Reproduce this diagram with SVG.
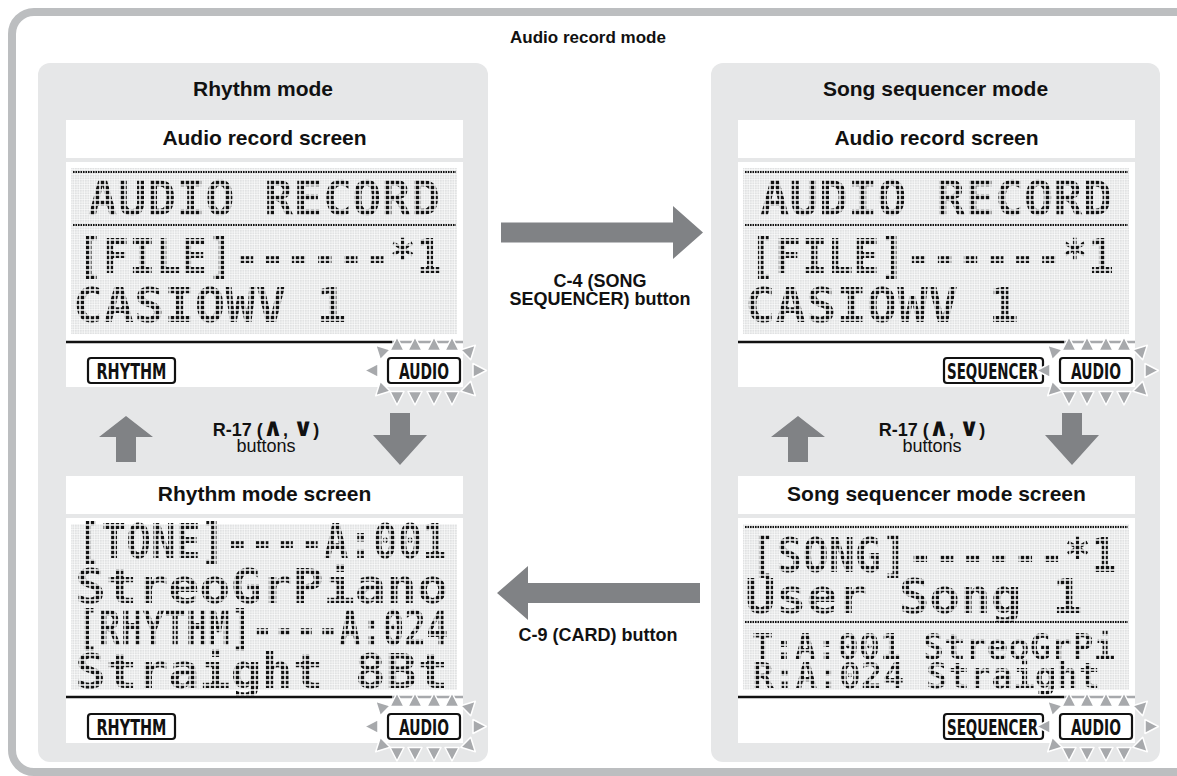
<svg xmlns="http://www.w3.org/2000/svg" width="1177" height="776" viewBox="0 0 1177 776">
<defs>
<style>
.hd{font-family:"Liberation Sans",Arial,sans-serif;font-weight:bold;font-size:21px;fill:#111;text-anchor:middle}
.top{font-size:17px}
.lb{font-family:"Liberation Sans",Arial,sans-serif;font-weight:bold;font-size:18px;fill:#111;text-anchor:middle}
.lr{font-family:"Liberation Sans",Arial,sans-serif;font-weight:normal;font-size:18px;fill:#111;text-anchor:middle}
.sym{font-family:"DejaVu Sans",sans-serif;font-weight:bold;font-size:25px}
.panel{fill:#e6e7e8}
.wbox{fill:#fff}
.grid{fill:url(#grid)}
.lcd{font-family:"DejaVu Sans Mono","Liberation Mono",monospace;font-weight:bold;font-size:48px;fill:#111}
.lcds{font-size:36px}
.dot{stroke:#111;stroke-width:2;stroke-dasharray:1.6 0.9;fill:none}
.bar{stroke:#111;stroke-width:2.5}
.barg{stroke:#a7a9ac;stroke-width:2.5}
.badge{fill:#fff;stroke:#111;stroke-width:2.2}
.bt{font-family:"DejaVu Sans",sans-serif;font-weight:bold;font-size:21px;fill:#111;text-anchor:middle}
.arr{fill:#808285}
.tri{fill:#a7a9ac;stroke:#fff;stroke-width:1.5;stroke-linejoin:round}
</style>
<pattern id="grid" width="2.5" height="2.5" patternUnits="userSpaceOnUse"><rect width="2" height="2" fill="#e1e2e3"/></pattern>
<pattern id="dp" width="5" height="5" patternUnits="userSpaceOnUse"><rect x="0.8" y="0.8" width="3.4" height="3.4" fill="#fff"/></pattern>
<mask id="dm" maskUnits="userSpaceOnUse" x="0" y="0" width="1177" height="776"><rect width="1177" height="776" fill="url(#dp)"/></mask>
<polygon id="tri" class="tri" points="0,-7.5 7,6 -7,6"/>
<g id="glow">
<use href="#tri" transform="translate(-27,-26)"/>
<use href="#tri" transform="translate(-9,-26)"/>
<use href="#tri" transform="translate(10,-26)"/>
<use href="#tri" transform="translate(28,-26)"/>
<use href="#tri" transform="translate(-27,27) rotate(180)"/>
<use href="#tri" transform="translate(-9,27) rotate(180)"/>
<use href="#tri" transform="translate(10,27) rotate(180)"/>
<use href="#tri" transform="translate(28,27) rotate(180)"/>
<use href="#tri" transform="translate(-52,0) rotate(-90)"/>
<use href="#tri" transform="translate(55,0) rotate(90)"/>
<use href="#tri" transform="translate(-43,-20) rotate(-45)"/>
<use href="#tri" transform="translate(46,-20) rotate(45)"/>
<use href="#tri" transform="translate(-43,20) rotate(-135)"/>
<use href="#tri" transform="translate(46,20) rotate(135)"/>
</g>
</defs>

<rect width="1177" height="776" fill="#fff"/>

<g id="frame">
<rect x="12" y="12" width="1200" height="760" rx="22" fill="#fff" stroke="#bcbec0" stroke-width="8"/>
<text class="hd top" x="588" y="43">Audio record mode</text>
</g>

<g id="rhythm-panel">
<rect class="panel" x="38" y="63" width="450" height="699" rx="12"/>
<text class="hd" x="263" y="96">Rhythm mode</text>
</g>

<g id="song-panel">
<rect class="panel" x="711" y="63" width="449" height="699" rx="12"/>
<text class="hd" x="935.5" y="96">Song sequencer mode</text>
</g>

<g id="rhythm-audio-screen">
<rect class="wbox" x="66" y="120" width="397" height="38"/>
<text class="hd" x="264.5" y="145">Audio record screen</text>
<rect class="wbox" x="66" y="162" width="397" height="225"/>
<rect class="grid" x="71" y="168" width="386" height="166"/>
<line class="dot" x1="73" y1="172" x2="456" y2="172"/>
<line class="dot" x1="73" y1="225" x2="456" y2="225"/>
<g mask="url(#dm)">
<text class="lcd" x="88" y="215" textLength="352" lengthAdjust="spacingAndGlyphs">AUDIO RECORD</text>
<text class="lcd" x="77" y="273" textLength="365" lengthAdjust="spacingAndGlyphs">[FILE]------*1</text>
<text class="lcd" x="73" y="322" textLength="274" lengthAdjust="spacingAndGlyphs">CASIOWV 1</text>
</g>
<line class="bar" x1="66" y1="342" x2="392" y2="342"/>
<line class="barg" x1="392" y1="342" x2="463" y2="342"/>
<rect class="badge" x="88" y="358" width="87" height="25" rx="3"/>
<text class="bt" x="131.5" y="378.5" textLength="70" lengthAdjust="spacingAndGlyphs">RHYTHM</text>
<rect class="badge" x="388" y="358" width="72" height="25" rx="3"/>
<text class="bt" x="424" y="378.5" textLength="50" lengthAdjust="spacingAndGlyphs">AUDIO</text>
<use href="#glow" x="424" y="370.5"/>
</g>

<g id="rhythm-mode-screen">
<rect class="wbox" x="66" y="476" width="397" height="38"/>
<text class="hd" x="264.5" y="501">Rhythm mode screen</text>
<rect class="wbox" x="66" y="518" width="397" height="225"/>
<rect class="grid" x="71" y="524" width="386" height="166"/>
<g mask="url(#dm)">
<text class="lcd" x="77" y="558" textLength="370" lengthAdjust="spacingAndGlyphs">[TONE]----A:001</text>
<text class="lcd" x="75" y="603" textLength="373" lengthAdjust="spacingAndGlyphs">StreoGrPiano</text>
<text class="lcd" x="77" y="645" textLength="371" lengthAdjust="spacingAndGlyphs">[RHYTHM]----A:024</text>
<text class="lcd" x="75" y="688" textLength="373" lengthAdjust="spacingAndGlyphs">Straight 8Bt</text>
</g>
<line class="bar" x1="66" y1="697" x2="392" y2="697"/>
<line class="barg" x1="392" y1="697" x2="463" y2="697"/>
<rect class="badge" x="88" y="714" width="87" height="25" rx="3"/>
<text class="bt" x="131.5" y="734.5" textLength="70" lengthAdjust="spacingAndGlyphs">RHYTHM</text>
<rect class="badge" x="388" y="714" width="72" height="25" rx="3"/>
<text class="bt" x="424" y="734.5" textLength="50" lengthAdjust="spacingAndGlyphs">AUDIO</text>
<use href="#glow" x="424" y="726.5"/>
</g>

<g id="song-audio-screen">
<rect class="wbox" x="738" y="120" width="397" height="38"/>
<text class="hd" x="936.5" y="145">Audio record screen</text>
<rect class="wbox" x="738" y="162" width="397" height="225"/>
<rect class="grid" x="743" y="168" width="386" height="166"/>
<line class="dot" x1="745" y1="172" x2="1128" y2="172"/>
<line class="dot" x1="745" y1="225" x2="1128" y2="225"/>
<g mask="url(#dm)">
<text class="lcd" x="760" y="215" textLength="352" lengthAdjust="spacingAndGlyphs">AUDIO RECORD</text>
<text class="lcd" x="749" y="273" textLength="365" lengthAdjust="spacingAndGlyphs">[FILE]------*1</text>
<text class="lcd" x="745" y="322" textLength="274" lengthAdjust="spacingAndGlyphs">CASIOWV 1</text>
</g>
<line class="bar" x1="738" y1="342" x2="1064" y2="342"/>
<line class="barg" x1="1064" y1="342" x2="1135" y2="342"/>
<rect class="badge" x="944" y="358" width="99" height="25" rx="3"/>
<text class="bt" x="992.5" y="378.5" textLength="91" lengthAdjust="spacingAndGlyphs">SEQUENCER</text>
<rect class="badge" x="1060" y="358" width="72" height="25" rx="3"/>
<text class="bt" x="1096" y="378.5" textLength="50" lengthAdjust="spacingAndGlyphs">AUDIO</text>
<use href="#glow" x="1096" y="370.5"/>
</g>

<g id="song-mode-screen">
<rect class="wbox" x="738" y="476" width="397" height="38"/>
<text class="hd" x="936.5" y="501">Song sequencer mode screen</text>
<rect class="wbox" x="738" y="518" width="397" height="225"/>
<rect class="grid" x="743" y="524" width="386" height="166"/>
<line class="dot" x1="745" y1="527" x2="1128" y2="527"/>
<line class="dot" x1="745" y1="622" x2="1128" y2="622"/>
<g mask="url(#dm)">
<text class="lcd" x="750" y="572" textLength="367" lengthAdjust="spacingAndGlyphs">[SONG]------*1</text>
<text class="lcd" x="745" y="613" textLength="338" lengthAdjust="spacingAndGlyphs">User Song 1</text>
<text class="lcd lcds" x="752" y="659" textLength="363" lengthAdjust="spacingAndGlyphs">T:A:001 StreoGrPi</text>
<text class="lcd lcds" x="752" y="688" textLength="348" lengthAdjust="spacingAndGlyphs">R:A:024 Straight</text>
</g>
<line class="bar" x1="738" y1="697" x2="1064" y2="697"/>
<line class="barg" x1="1064" y1="697" x2="1135" y2="697"/>
<rect class="badge" x="944" y="714" width="99" height="25" rx="3"/>
<text class="bt" x="992.5" y="734.5" textLength="91" lengthAdjust="spacingAndGlyphs">SEQUENCER</text>
<rect class="badge" x="1060" y="714" width="72" height="25" rx="3"/>
<text class="bt" x="1096" y="734.5" textLength="50" lengthAdjust="spacingAndGlyphs">AUDIO</text>
<use href="#glow" x="1096" y="726.5"/>
</g>

<g id="connectors">
<polygon class="arr" points="501,222.5 673,222.5 673,206 703,232.5 673,259 673,242.5 501,242.5"/>
<polygon class="arr" points="700,583 528,583 528,566 497,593 528,620 528,603 700,603"/>
<polygon class="arr" points="116,462 116,437 99,437 126,416 153,437 136,437 136,462"/>
<polygon class="arr" points="390,413 410,413 410,435 427,435 400,465 373,435 390,435"/>
<polygon class="arr" points="788,462 788,437 771,437 798,416 825,437 808,437 808,462"/>
<polygon class="arr" points="1062,413 1082,413 1082,435 1099,435 1072,465 1045,435 1062,435"/>
</g>

<g id="labels">
<text class="lb" x="600" y="287">C-4 (SONG</text>
<text class="lb" x="600" y="305">SEQUENCER) button</text>
<text class="lb" x="598" y="641">C-9 (CARD) button</text>
<text class="lb" x="266" y="436">R-17 (<tspan class="sym">∧</tspan>, <tspan class="sym">∨</tspan>)</text>
<text class="lr" x="266" y="452">buttons</text>
<text class="lb" x="932" y="436">R-17 (<tspan class="sym">∧</tspan>, <tspan class="sym">∨</tspan>)</text>
<text class="lr" x="932" y="452">buttons</text>
</g>
</svg>
